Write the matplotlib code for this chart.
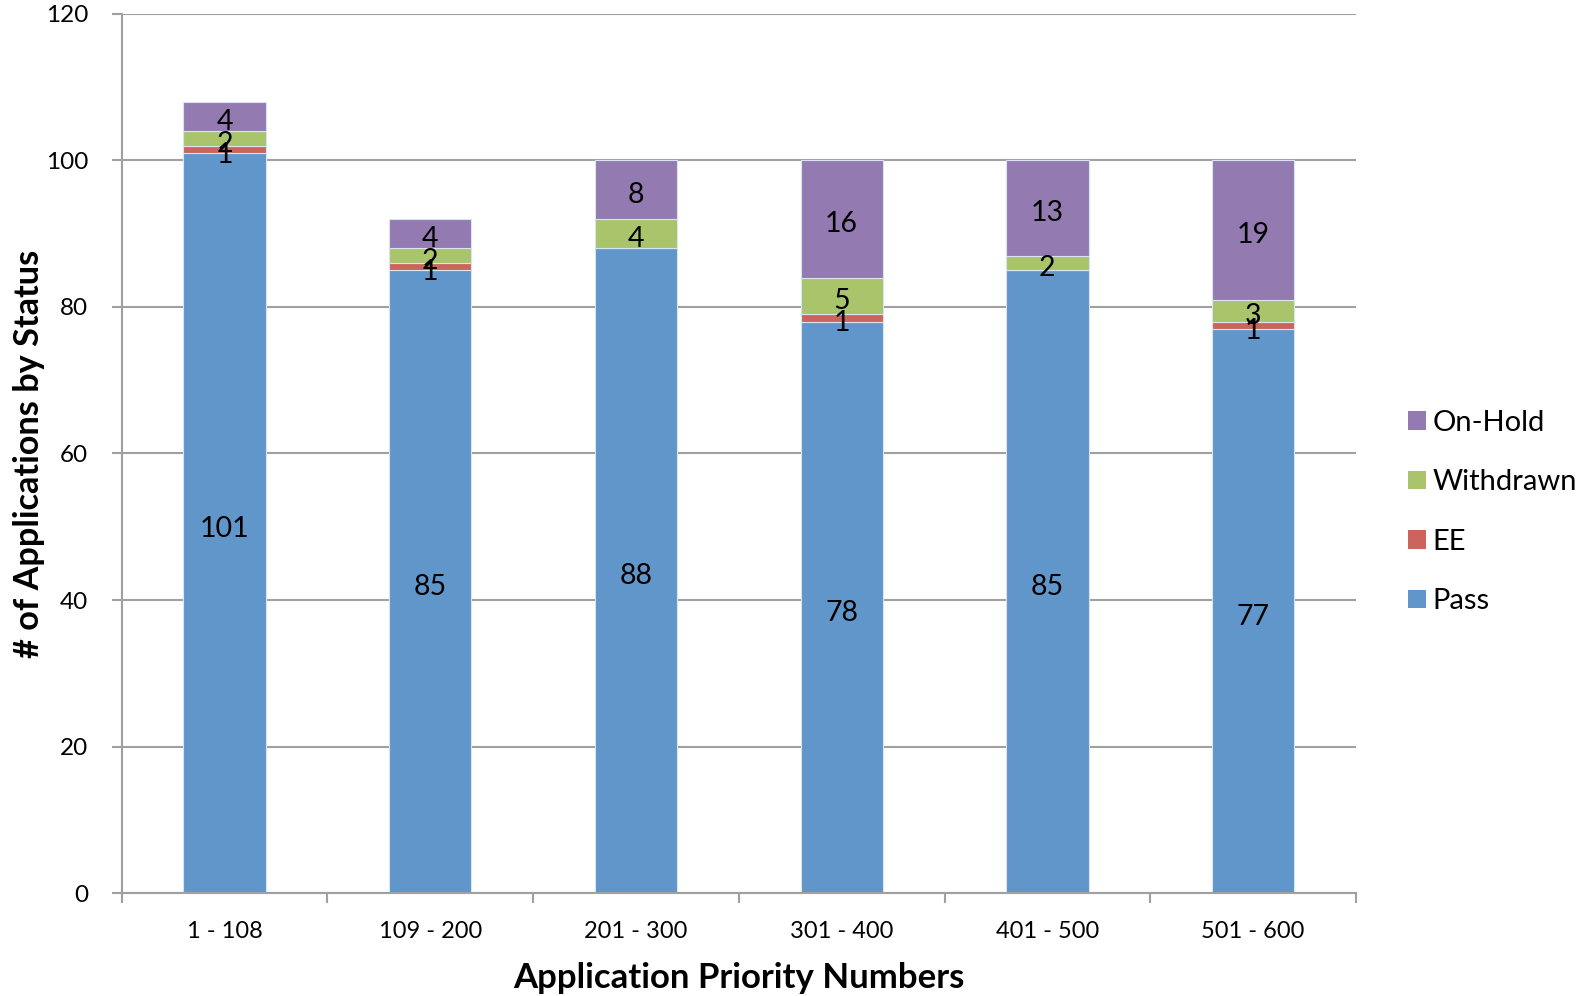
import matplotlib
matplotlib.use("Agg")
import matplotlib.pyplot as plt
from matplotlib.patches import Patch
import matplotlib.transforms as mtransforms
import numpy as np

categories = ["1 - 108", "109 - 200", "201 - 300", "301 - 400", "401 - 500", "501 - 600"]
pass_vals = [101, 85, 88, 78, 85, 77]
ee_vals = [1, 1, 0, 1, 0, 1]
withdrawn_vals = [2, 2, 4, 5, 2, 3]
onhold_vals = [4, 4, 8, 16, 13, 19]

series = [("Pass", pass_vals, "#6096C9"),
          ("EE", ee_vals, "#CC645C"),
          ("Withdrawn", withdrawn_vals, "#A9C46B"),
          ("On-Hold", onhold_vals, "#937BB1")]

plt.rcParams['font.family'] = ['Lato', 'DejaVu Sans']

fig = plt.figure(figsize=(15.94, 9.96), dpi=100)
ax = fig.add_axes([121.7/1594, 1-893.3/996, (1356-121.7)/1594, (893.3-13.7)/996])

label_tr = ax.transData + mtransforms.ScaledTranslation(0, -3/100, fig.dpi_scale_trans)

x = np.arange(len(categories))
bottom = np.zeros(len(categories))
for name, vals, col in series:
    vals = np.array(vals, dtype=float)
    ax.bar(x, vals, width=0.4, bottom=bottom, color=col,
           edgecolor="#D8E4F0", linewidth=0.8, label=name, zorder=2)
    for xi, b, v in zip(x, bottom, vals):
        if v > 0:
            ax.text(xi, b + v/2, f"{int(v)}", ha="center", va="center_baseline",
                    fontsize=20.5, color="black", zorder=3, transform=label_tr)
    bottom += vals

ax.set_xlim(-0.5, len(categories)-0.5)
ax.set_ylim(0, 120)
ax.set_yticks(range(0, 121, 20))
ax.yaxis.grid(True, color="#A0A0A0", linewidth=1.5, zorder=0)
ax.set_axisbelow(True)
for s in ["top", "right"]:
    ax.spines[s].set_visible(False)
ax.spines["left"].set_color("#A0A0A0")
ax.spines["left"].set_linewidth(1.5)
ax.spines["bottom"].set_color("#A0A0A0")
ax.spines["bottom"].set_linewidth(1.5)

ax.set_xticks(x)
ax.set_xticklabels(categories, fontsize=17)
ax.tick_params(axis="x", length=0, pad=20)
ax.set_xticks(np.arange(-0.5, len(categories)), minor=True)
ax.tick_params(axis="x", which="minor", length=7, width=1.5, color="#A0A0A0", direction="out")
ax.tick_params(axis="y", labelsize=17.5, length=7, width=1.5, color="#A0A0A0", pad=17)

ax.set_xlabel("Application Priority Numbers", fontsize=25, fontweight="bold")
ax.xaxis.set_label_coords(0.5, -(978-893.3)/(893.3-13.7), transform=ax.transAxes)
ax.xaxis.label.set_va("center")
ax.set_ylabel("# of Applications by Status", fontsize=24.7, fontweight="bold")
ax.yaxis.set_label_coords(-(121.7-29)/(1356-121.7), 0.5, transform=ax.transAxes)
ax.yaxis.label.set_va("center")

handles = [Patch(facecolor=c, edgecolor="none") for _, _, c in series][::-1]
labels = [n for n, _, _ in series][::-1]
fig.legend(handles, labels, loc="center left", bbox_to_anchor=(1408/1594, 1-512/996),
           frameon=False, fontsize=21, handlelength=0.6, handleheight=0.6,
           handletextpad=0.25, labelspacing=1.15, borderpad=0, borderaxespad=0)

fig.savefig("out.png", dpi=100)
